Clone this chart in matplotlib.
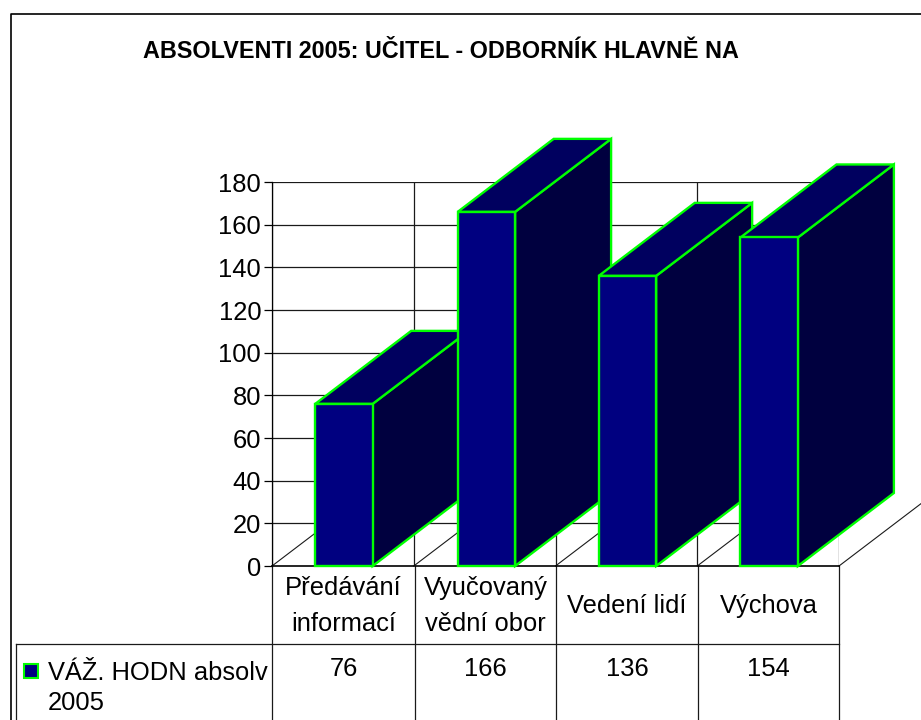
import matplotlib
matplotlib.use("Agg")
import matplotlib.pyplot as plt
from matplotlib.patches import Polygon, Rectangle

plt.rcParams['font.family'] = ['Liberation Sans', 'DejaVu Sans']

# data
title = "ABSOLVENTI 2005: UČITEL - ODBORNÍK HLAVNĚ NA"
categories = ["Předávání\ninformací", "Vyučovaný\nvědní obor", "Vedení lidí", "Výchova"]
values = [76, 166, 136, 154]
series_name = "VÁŽ. HODN absolv\n2005"
yticks = [0, 20, 40, 60, 80, 100, 120, 140, 160, 180]

# colours
front = "#000080"
side = "#00003f"
top = "#00005f"
edge = "#00ff00"
line = "#1a1a1a"

fig = plt.figure(figsize=(9.21, 7.2), dpi=100)

# overlay in pixels for frame and table
bg = fig.add_axes([0, 0, 1, 1])
bg.set_xlim(0, 921)
bg.set_ylim(720, 0)
bg.axis("off")

bg.plot([10.5, 10.5, 921], [720, 13.5, 13.5], color="black", lw=1.2)
bg.text(441, 51, title, ha="center", va="center", fontsize=16.8, fontweight="bold")

# table under the plot
col_x = [272, 415, 556, 698, 839]
bg.plot([16, 16], [644, 720], color=line, lw=0.9)
bg.plot([16, 839], [644, 644], color=line, lw=0.9)
for x in col_x:
    bg.plot([x, x], [566, 720], color=line, lw=0.9)
for i in range(len(categories)):
    cx = (col_x[i] + col_x[i + 1]) / 2
    bg.text(cx, 606, categories[i], ha="center", va="center", fontsize=18.4, linespacing=1.58)
    bg.text(cx, 669, str(values[i]), ha="center", va="center", fontsize=18.4)
bg.add_patch(Rectangle((24, 664), 14, 14, facecolor=front, edgecolor=edge, lw=1.5))
bg.text(48, 688, series_name, ha="left", va="center", fontsize=18.4, linespacing=1.35)

# the plot itself, value axis in data units
ax = fig.add_axes([272 / 921, 1 - 566 / 720, 567 / 921, 384 / 720])
ax.set_xlim(0, 4)
ax.set_ylim(0, 180)
ax.patch.set_alpha(0)
for s in ["top", "right"]:
    ax.spines[s].set_visible(False)
ax.spines["left"].set_linewidth(0.9)
ax.spines["bottom"].set_linewidth(1.2)
ax.spines["left"].set_zorder(1)
ax.spines["bottom"].set_zorder(1)
ax.set_xticks([])
ax.set_yticks(yticks)
ax.tick_params(axis="y", length=5.8, width=0.9, labelsize=18.4, pad=2)

# depth of the fake 3d
dx = 96 / 141.75
dy = 73 / (384 / 180)
bar_left = 0.305
bar_w = 0.405

for v in yticks[1:]:
    ax.plot([0, 4], [v, v], color=line, lw=0.9, zorder=1)
for i in range(5):
    ax.plot([i, i], [0, 180], color=line, lw=0.9, zorder=1)
    ax.plot([i, i + 0.58], [0, 0.58 * dy / dx], color=line, lw=0.8, zorder=1, clip_on=False)

for i, v in enumerate(values):
    x0 = i + bar_left + (0.005 if i == 1 else 0)
    x1 = x0 + bar_w
    z = 3 + i
    ax.add_patch(Polygon([(x1, 0), (x1 + dx, dy), (x1 + dx, v + dy), (x1, v)], closed=True,
                         facecolor=side, edgecolor=edge, lw=1.7, zorder=z, clip_on=False))
    ax.add_patch(Polygon([(x0, v), (x1, v), (x1 + dx, v + dy), (x0 + dx, v + dy)], closed=True,
                         facecolor=top, edgecolor=edge, lw=1.7, zorder=z, clip_on=False))
    ax.add_patch(Rectangle((x0, 0), bar_w, v, facecolor=front, edgecolor=edge, lw=1.7,
                           zorder=z, clip_on=False))

fig.savefig("out.png", dpi=100)
